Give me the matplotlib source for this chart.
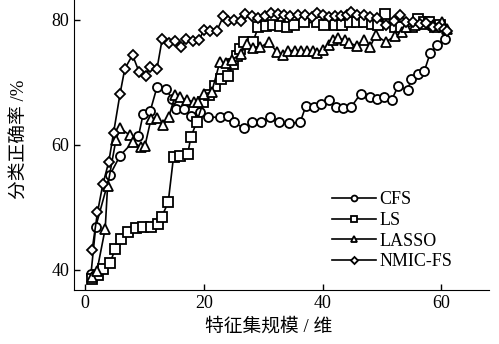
import numpy as np
import matplotlib.pyplot as plt

plt.rcParams['font.family'] = ['Liberation Serif', 'Noto Sans CJK SC']

# CFS
cfs_x = [1.0, 1.8, 4.2, 5.9, 9.0, 9.8, 11.0, 12.1, 13.7, 14.6,
         15.4, 16.7, 17.8, 19.4, 20.7, 22.7, 24.0, 25.0, 26.8, 28.1,
         29.6, 31.1, 32.7, 34.4, 36.2, 37.2, 38.6, 39.7, 41.0, 42.2,
         43.4, 44.8, 46.4, 48.0, 49.2, 50.3, 51.6, 52.7, 54.3, 54.9,
         56.0, 57.1, 58.1, 59.2, 60.6]
cfs_y = [39.3, 46.9, 55.2, 58.3, 61.4, 65.0, 65.5, 69.2, 68.9, 67.4,
         65.8, 65.8, 64.7, 65.2, 64.5, 64.4, 64.7, 63.6, 62.7, 63.6,
         63.6, 64.4, 63.6, 63.5, 63.6, 66.3, 66.1, 66.5, 67.2, 66.1,
         65.9, 66.1, 68.2, 67.6, 67.3, 67.7, 67.2, 69.4, 68.8, 70.5,
         71.3, 71.8, 74.7, 76.0, 76.9]

# LS
ls_x = [1.1, 2.2, 3.1, 4.2, 5.1, 6.0, 7.3, 8.6, 9.8, 11.1,
        12.3, 12.9, 14.0, 14.9, 16.0, 17.3, 17.8, 18.8, 19.9, 20.9,
        21.9, 22.9, 24.1, 24.9, 25.5, 26.1, 26.8, 28.2, 29.2, 30.4,
        31.6, 32.8, 34.0, 35.2, 36.9, 39.0, 40.3, 42.0, 43.3, 44.6,
        45.8, 46.9, 48.3, 49.3, 50.5, 52.2, 53.2, 55.0, 56.1, 57.1,
        57.9, 58.9, 59.8]
ls_y = [38.5, 39.2, 40.1, 41.1, 43.4, 44.9, 46.0, 46.7, 46.8, 46.9,
        47.4, 48.5, 50.8, 58.1, 58.3, 58.6, 61.2, 63.7, 66.8, 68.0,
        69.4, 70.5, 71.1, 72.9, 74.2, 75.3, 76.5, 76.4, 78.9, 79.0,
        79.2, 79.1, 78.9, 79.2, 79.6, 79.6, 79.2, 79.2, 79.2, 79.6,
        79.7, 79.7, 79.4, 79.2, 81.0, 78.9, 78.9, 78.9, 80.1, 79.7,
        79.7, 78.9, 79.2]

# LASSO
lasso_x = [1.1, 2.0, 3.4, 3.8, 5.2, 5.9, 7.5, 8.1, 9.4, 10.1,
           11.1, 12.1, 13.2, 14.1, 15.2, 16.0, 17.1, 18.3, 19.1, 20.0,
           21.3, 22.7, 23.7, 24.7, 26.2, 27.2, 28.3, 29.5, 30.9, 32.3,
           33.3, 34.2, 35.4, 36.3, 37.4, 38.3, 39.0, 40.0, 41.0, 41.8,
           42.6, 43.7, 44.5, 45.7, 47.0, 48.0, 48.9, 50.6, 52.2, 53.3,
           54.1, 55.5, 57.0, 58.5, 60.1, 60.9]
lasso_y = [38.9, 39.8, 46.6, 53.4, 60.8, 62.7, 61.6, 60.4, 59.7, 59.9,
           64.1, 64.3, 63.2, 64.5, 68.0, 67.6, 67.2, 66.9, 66.9, 68.2,
           68.4, 73.3, 73.1, 73.6, 74.6, 76.1, 75.5, 75.6, 76.5, 74.9,
           74.4, 75.1, 75.1, 75.1, 75.0, 75.1, 74.7, 75.2, 76.0, 76.8,
           77.1, 76.8, 76.3, 75.9, 76.8, 75.7, 77.6, 76.5, 77.4, 78.1,
           78.9, 79.2, 79.3, 79.2, 79.7, 78.5]

# NMIC-FS
nmic_x = [1.2, 2.1, 3.0, 4.0, 4.8, 5.9, 6.7, 8.0, 9.1, 10.2,
          10.9, 12.1, 13.0, 14.1, 15.2, 16.2, 17.0, 18.2, 19.2, 20.0,
          21.0, 22.2, 23.3, 24.0, 25.1, 26.3, 26.9, 28.1, 29.2, 30.3,
          31.3, 32.4, 33.5, 34.5, 35.9, 37.0, 38.2, 39.0, 40.0, 41.0,
          42.1, 43.1, 44.1, 44.8, 45.7, 47.0, 48.0, 49.1, 50.7, 52.0,
          53.1, 54.1, 55.2, 56.3, 57.4, 58.6, 59.6, 60.4, 60.9]
nmic_y = [43.2, 49.2, 53.7, 57.3, 61.9, 68.2, 72.2, 74.4, 71.7, 71.1,
          72.4, 72.1, 77.0, 76.3, 76.7, 75.6, 76.9, 76.7, 76.8, 78.4,
          78.3, 78.3, 80.6, 79.8, 80.0, 79.8, 81.0, 80.6, 80.3, 80.7,
          81.1, 81.0, 80.8, 80.6, 80.8, 80.8, 80.5, 81.1, 80.8, 80.4,
          80.6, 80.6, 80.8, 81.3, 80.8, 80.8, 80.4, 80.3, 79.2, 79.9,
          80.8, 79.6, 79.7, 79.4, 79.5, 78.9, 78.8, 78.5, 78.3]

fig = plt.figure(figsize=(4.99, 3.44), dpi=100)
ax = fig.add_axes([0.1483, 0.157, 0.8317, 0.843])

style = dict(color='black', linewidth=1.2, markersize=6.5,
             markerfacecolor='white', markeredgecolor='black', markeredgewidth=1.3)
ax.plot(cfs_x, cfs_y, marker='o', label='CFS', **style)
ax.plot(ls_x, ls_y, marker='s', label='LS', **style)
ax.plot(lasso_x, lasso_y, marker='^', label='LASSO', **style)
ax.plot(nmic_x, nmic_y, marker='D', label='NMIC-FS', **dict(style, markersize=5.5))

ax.set_xlim(-1.85, 68)
ax.set_ylim(36.8, 83.2)
ax.set_xticks([0, 20, 40, 60])
ax.set_yticks([40, 60, 80])
ax.spines['top'].set_visible(False)
ax.spines['right'].set_visible(False)
ax.tick_params(direction='in', length=4, labelsize=13, width=1)

ax.set_xlabel('特征集规模 / 维', fontsize=13.5)
ax.set_ylabel('分类正确率 /%', fontsize=13.5)
ax.xaxis.set_label_coords(0.47, -0.095)
ax.yaxis.set_label_coords(-0.11, 0.52)

ax.legend(loc='upper left', bbox_to_anchor=(0.583, 0.396), frameon=False,
          fontsize=13, handlelength=2.4, handletextpad=0.2, labelspacing=0.2,
          markerscale=0.65)

fig.savefig('out.png', dpi=100)
